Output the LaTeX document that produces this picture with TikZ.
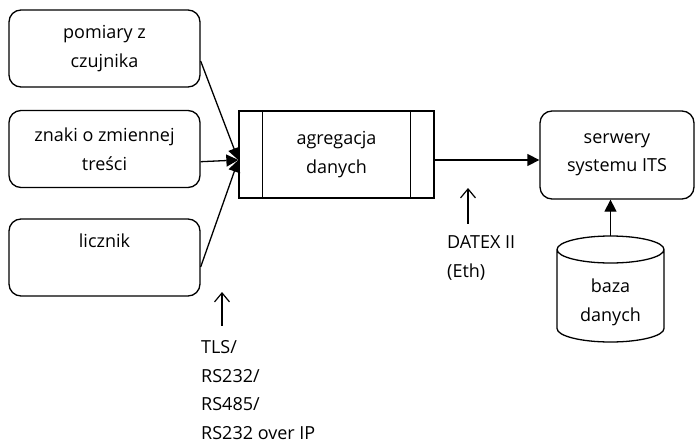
\documentclass[tikz,border=0pt]{standalone}
\usepackage{fontspec}
\setmainfont{Open Sans}
\usetikzlibrary{arrows.meta,calc,positioning}

\begin{document}
\begin{tikzpicture}[x=1pt,y=1pt,
 source/.style={draw,rounded corners=12pt,line width=1.3pt,
   minimum width=191pt,minimum height=77pt,inner sep=2pt,
   align=center,font=\fontsize{18}{28.5}\selectfont},
 process/.style={draw,line width=1.3pt,minimum width=195pt,
   minimum height=87pt,align=center,font=\fontsize{18}{28.5}\selectfont},
 store/.style={minimum width=107pt,minimum height=79pt,outer sep=0pt,
   align=center,font=\fontsize{18}{28.5}\selectfont},
 remark/.style={inner sep=0pt,align=left,font=\fontsize{18}{28.5}\selectfont},
 flow/.style={-{Triangle[length=12pt,width=12pt]},line width=1.3pt},
 note/.style={-{Straight Barb[length=9pt,width=15pt]},line width=1.2pt}
]
\useasboundingbox (0,0) rectangle (695,-444);

\node[source] (sensor) at (104.5,-48.5) {pomiary z\\czujnika};
\node[source] (vms) at (104.5,-149) {znaki o zmiennej\\treści};
\node[source] (counter) at (104.5,-257.5) {licznik\\\phantom{y}};

\node[process] (aggr) at (336.5,-154.5) {agregacja\\danych};
\draw[line width=1.3pt] ([xshift=24pt]aggr.north west) -- ([xshift=24pt]aggr.south west);
\draw[line width=1.3pt] ([xshift=-24pt]aggr.north east) -- ([xshift=-24pt]aggr.south east);

\node[source,minimum width=154pt,minimum height=88pt] (servers) at (617,-155)
 {serwery\\systemu ITS};

% baza danych as cylinder
\node[store] (db) at (610.5,-302.5) {baza\\danych};
\draw[line width=1.3pt] ([yshift=13.5pt]db.north west) -- ([yshift=13.5pt]db.south west)
 arc[start angle=180,end angle=360,x radius=53.5pt,y radius=13.5pt]
 -- ([yshift=13.5pt]db.north east)
 arc[start angle=0,end angle=180,x radius=53.5pt,y radius=13.5pt]
 arc[start angle=180,end angle=360,x radius=53.5pt,y radius=13.5pt];
\coordinate (dbtop) at ([yshift=27pt]db.north);

\coordinate (aggrin) at ([yshift=-5.5pt]aggr.west);
\draw[flow] ([yshift=-12.5pt]sensor.east) -- (aggrin);
\draw[flow] ([yshift=-12.7pt]vms.east) -- (aggrin);
\draw[flow] ([yshift=-9.5pt]counter.east) -- (aggrin);
\draw[flow] ([yshift=-5.5pt]aggr.east) -- ([yshift=-5pt]servers.west);
\draw[flow] (dbtop) -- (dbtop |- servers.south);

\node[remark,anchor=north west] (datex) at (447,-235.5) {DATEX II\\(Eth)};
\coordinate (datextip) at (468,-188);
\draw[note] ([yshift=12pt]datextip |- datex.north) -- (datextip);

\node[remark,anchor=north west] (tls) at (201,-340.5)
 {TLS/\\RS232/\\RS485/\\RS232 over IP};
\coordinate (tlstip) at (222,-292);
\draw[note] ([yshift=15pt]tlstip |- tls.north) -- (tlstip);
\end{tikzpicture}
\end{document}
